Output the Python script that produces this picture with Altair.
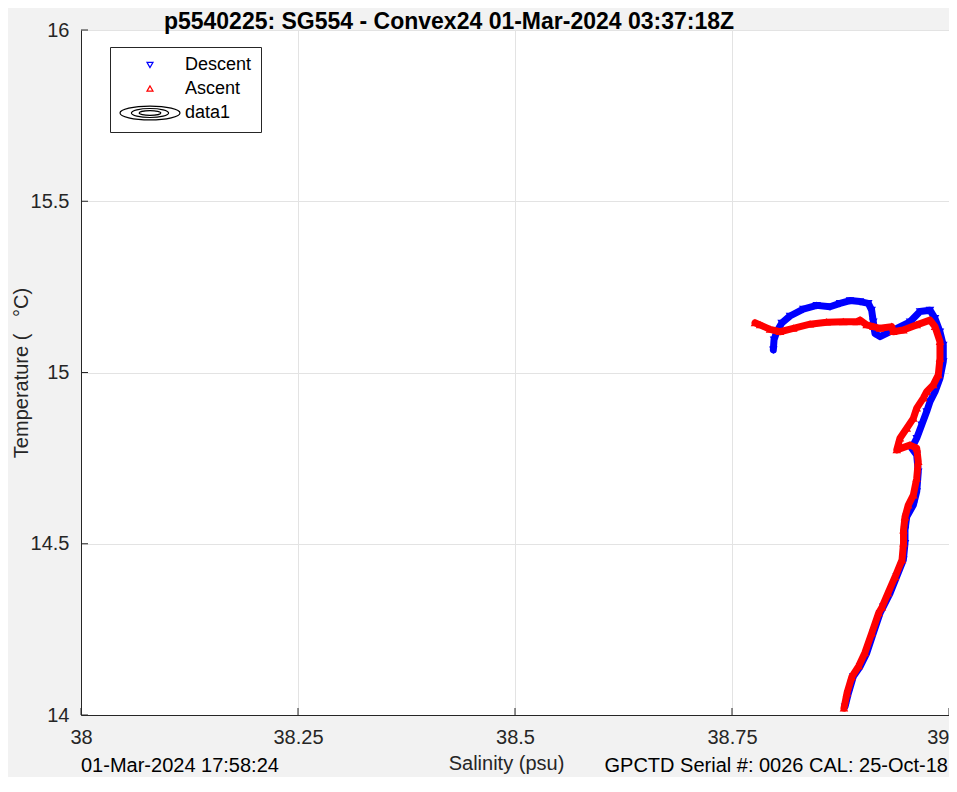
import altair as alt
import pandas as pd

# ---- data ----
desc_sal = [38.7976, 38.7984, 38.8015, 38.8072, 38.8168, 38.8321, 38.8476, 38.8629, 38.8744, 38.8859,
            38.8975, 38.9070, 38.9109, 38.9128, 38.9147, 38.9205, 38.9358, 38.9551, 38.9666, 38.9781,
            38.9839, 38.9896, 38.9934, 38.9934, 38.9896, 38.9839, 38.9781, 38.9743, 38.9685, 38.9628,
            38.9570, 38.9628, 38.9646, 38.9628, 38.9589, 38.9513, 38.9493, 38.9493, 38.9474, 38.9397,
            38.9320, 38.9243, 38.9205, 38.9128, 38.9051, 38.8975, 38.8897, 38.8840, 38.8802]
desc_temp = [15.066, 15.095, 15.119, 15.144, 15.165, 15.185, 15.196, 15.192, 15.202, 15.210,
             15.207, 15.202, 15.182, 15.148, 15.114, 15.105, 15.124, 15.148, 15.178, 15.182,
             15.158, 15.119, 15.080, 15.032, 14.983, 14.944, 14.915, 14.886, 14.847, 14.808,
             14.779, 14.759, 14.710, 14.652, 14.613, 14.579, 14.540, 14.501, 14.453, 14.404,
             14.355, 14.316, 14.297, 14.239, 14.180, 14.141, 14.112, 14.063, 14.024]

asc_sal = [38.8790, 38.8825, 38.8880, 38.8960, 38.9030, 38.9110, 38.9190, 38.9228, 38.9297, 38.9378,
           38.9459, 38.9476, 38.9476, 38.9493, 38.9531, 38.9589, 38.9628, 38.9646, 38.9628, 38.9551,
           38.9398, 38.9435, 38.9513, 38.9589, 38.9628, 38.9704, 38.9743, 38.9819, 38.9877, 38.9896,
           38.9896, 38.9839, 38.9781, 38.9628, 38.9474, 38.9358, 38.9340, 38.9205, 38.9128, 38.9051,
           38.8975, 38.8936, 38.8782, 38.8591, 38.8399, 38.8206, 38.8053, 38.7938, 38.7823, 38.7765]
asc_temp = [14.020, 14.064, 14.111, 14.143, 14.181, 14.239, 14.298, 14.315, 14.356, 14.403,
            14.453, 14.502, 14.540, 14.578, 14.613, 14.642, 14.691, 14.740, 14.779, 14.788,
            14.774, 14.808, 14.837, 14.866, 14.896, 14.925, 14.944, 14.964, 14.993, 15.041,
            15.090, 15.134, 15.153, 15.139, 15.124, 15.119, 15.134, 15.129, 15.134, 15.139,
            15.153, 15.148, 15.148, 15.147, 15.141, 15.129, 15.119, 15.126, 15.139, 15.145]

categories = ["Descent", "Ascent", "data1"]
cat_colors = ["#0000ff", "#ff0000", "#000000"]
x_ticks = [38, 38.25, 38.5, 38.75, 39]
y_ticks = [14, 14.5, 15, 15.5, 16]

title_text = "p5540225: SG554 - Convex24 01-Mar-2024 03:37:18Z"
x_title = "Salinity (psu)"
y_title = "Temperature (\u00a0\u00a0\u00a0\u00b0C)"
foot_left = "01-Mar-2024 17:58:24"
foot_right = "GPCTD Serial #: 0026 CAL: 25-Oct-18"

# ---- layout ----
W, H = 868, 685
FONT = "Liberation Sans"
AX = "#262626"

ellipse_path = ("M-10,0A10,2.3 0 1,1 10,0A10,2.3 0 1,1 -10,0"
                "M-6.2,0A6.2,1.5 0 1,1 6.2,0A6.2,1.5 0 1,1 -6.2,0"
                "M-3.6,0A3.6,0.8 0 1,1 3.6,0A3.6,0.8 0 1,1 -3.6,0")
cat_shapes = ["triangle-down", "triangle-up", ellipse_path]

desc_df = pd.DataFrame({"sal": desc_sal, "temp": desc_temp, "cast": "Descent", "i": range(len(desc_sal))})
asc_df = pd.DataFrame({"sal": asc_sal, "temp": asc_temp, "cast": "Ascent", "i": range(len(asc_sal))})

x_scale = alt.Scale(domain=[38, 39], nice=False, zero=False)
y_scale = alt.Scale(domain=[14, 16], nice=False, zero=False)

legend = alt.Legend(title=None, orient="none", legendX=29, legendY=17,
                    fillColor="white", strokeColor=AX, padding=9,
                    symbolSize=36, symbolStrokeWidth=1.2, symbolOffset=22,
                    labelOffset=26, labelFont=FONT, labelFontSize=18, labelColor="black",
                    rowPadding=5.5)

x_axis = alt.Axis(values=x_ticks, format=".5~g", title=x_title, labelFlush=False, labelOverlap=False,
                  labelAlign={"expr": "datum.value >= 39 ? 'right' : 'center'"},
                  titleX=425, titleY=54, titleBaseline="alphabetic", titleAlign="center")
y_axis = alt.Axis(values=y_ticks, format=".5~g", title=y_title, labelFlush=False, labelOverlap=False,
                  titleX=-54, titleY=342.5, titleBaseline="alphabetic", titleAlign="center", titleAngle=270)

X = lambda f: alt.X(f"{f}:Q", scale=x_scale, axis=x_axis)
Y = lambda f: alt.Y(f"{f}:Q", scale=y_scale, axis=y_axis)


def line_layer(df, color):
    return alt.Chart(df).mark_line(color=color, strokeWidth=7, strokeJoin="round", strokeCap="round").encode(
        x=X("sal"), y=Y("temp"), order=alt.Order("i:Q"),
    )


def point_layer(df):
    return alt.Chart(df).mark_point(filled=False, size=36, strokeWidth=1.5, opacity=1).encode(
        x=X("sal"), y=Y("temp"),
        color=alt.Color("cast:N", scale=alt.Scale(domain=categories, range=cat_colors), legend=legend),
        shape=alt.Shape("cast:N", scale=alt.Scale(domain=categories, range=cat_shapes), legend=legend),
    )


xt_df = pd.DataFrame({"sal": x_ticks})
yt_df = pd.DataFrame({"temp": y_ticks})
x_tick_marks = alt.Chart(xt_df).mark_rule(color=AX, strokeWidth=1).encode(
    x=X("sal"), y=alt.value(H), y2=alt.value(H - 7))
y_tick_marks = alt.Chart(yt_df).mark_rule(color=AX, strokeWidth=1).encode(
    y=Y("temp"), x=alt.value(0), x2=alt.value(7))

one = pd.DataFrame({"k": [0]})
title_mark = alt.Chart(one).mark_text(font=FONT, fontSize=23, fontWeight="bold", color="black",
                                      align="center", baseline="alphabetic").encode(
    x=alt.value(368), y=alt.value(-1), text=alt.value(title_text))
foot_l = alt.Chart(one).mark_text(font=FONT, fontSize=20, color="black", align="left",
                                  baseline="alphabetic").encode(
    x=alt.value(0), y=alt.value(742), text=alt.value(foot_left))
foot_r = alt.Chart(one).mark_text(font=FONT, fontSize=20, color="black", align="right",
                                  baseline="alphabetic").encode(
    x=alt.value(867), y=alt.value(742), text=alt.value(foot_right))

chart = alt.layer(
    line_layer(desc_df, "#0000ff"),
    point_layer(desc_df),
    line_layer(asc_df, "#ff0000"),
    point_layer(asc_df),
    x_tick_marks, y_tick_marks,
    title_mark, foot_l, foot_r,
).properties(
    width=W, height=H, background="#f2f2f2",
    padding={"left": 73, "top": 22, "right": 0, "bottom": 62},
    autosize=alt.AutoSizeParams(type="none"),
).configure_view(
    fill="white", stroke=None
).configure_axis(
    domainColor=AX, domainWidth=1, ticks=False,
    labelFont=FONT, labelFontSize=20, labelColor=AX, labelPadding=12,
    titleFont=FONT, titleFontSize=20, titleColor=AX, titleFontWeight="normal",
    gridColor="#e3e3e3", gridWidth=1, grid=True,
)

chart.save("out.html", embed_options={"renderer": "svg", "actions": False})
